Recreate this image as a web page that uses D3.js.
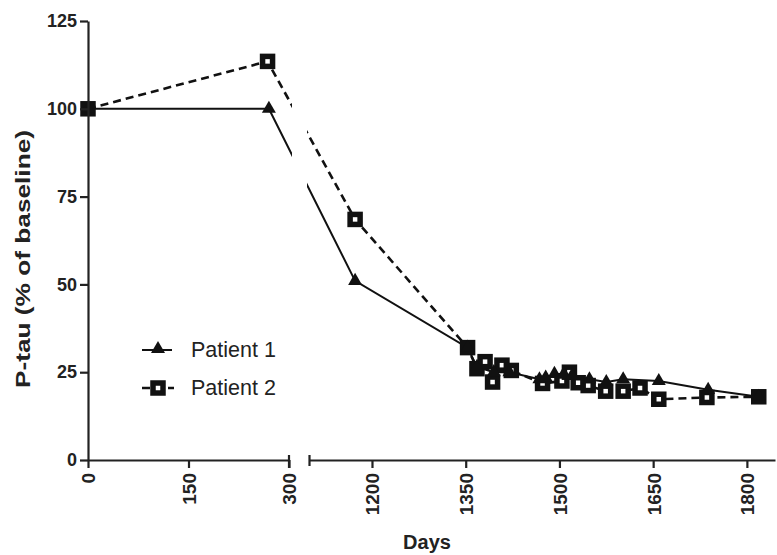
<!DOCTYPE html>
<html><head><meta charset="utf-8">
<script src="https://cdn.jsdelivr.net/npm/d3@7/dist/d3.min.js"></script>
<style>body{margin:0;background:#fff}svg{display:block;font-family:'Liberation Sans',Arial,sans-serif}</style>
</head><body><svg id="c" width="777" height="555"></svg>
<script>
const p1Days = [0,270,1173,1353,1368,1395,1420,1468,1478,1492,1507,1520,1548,1575,1602,1659,1738,1819];
const p1Vals = [100,100,51,32,26.5,25,25,23,23.5,24.5,24.5,24,23,22.2,23,22.5,20,18];
const p2Days = [0,268,1173,1353,1368,1381,1393,1408,1423,1473,1504,1516,1530,1546,1574,1602,1629,1659,1736,1819];
const p2Vals = [100,113.5,68.5,32,26,28,22.2,27,25.5,21.8,22.5,25,22,21.2,19.6,19.6,20.5,17.3,17.8,18];
const xTicks1 = [0,150,300];
const xTicks2 = [1200,1350,1500,1650,1800];
const yTicks = [0,25,50,75,100,125];
const seriesNames = ["Patient 1","Patient 2"];

const svg = d3.select("#c");
const y = d3.scaleLinear().domain([0,125]).range([460,21]);
const xs1 = d3.scaleLinear().domain([0,300]).range([88,289]);
const xs2 = d3.scaleLinear().domain([1100,1845]).range([309.5,775]);
const x = d3.scaleLinear().domain([0,300,1100,1845]).range([88,289,309.5,775]);

const line = d3.line().x(d=>x(d[0])).y(d=>y(d[1]));
const p1 = p1Days.map((d,i)=>[d,p1Vals[i]]);
const p2 = p2Days.map((d,i)=>[d,p2Vals[i]]);

svg.append("path").attr("d",line(p1)).attr("fill","none").attr("stroke","#111").attr("stroke-width",2);
svg.append("path").attr("d",line(p2)).attr("fill","none").attr("stroke","#111").attr("stroke-width",2.6).attr("stroke-dasharray","8,5");
svg.append("rect").attr("x",292).attr("y",10).attr("width",15).attr("height",444).attr("fill","#fff");

const tri = d3.symbol().type(d3.symbolTriangle).size(85);
function sq(g,cx,cy){
  g.append("rect").attr("x",cx-5).attr("y",cy-5).attr("width",10).attr("height",10)
   .attr("fill","#fff").attr("stroke","#111").attr("stroke-width",5.5);
}
p2.forEach(d=>sq(svg,x(d[0]),y(d[1])));
svg.selectAll(".t").data(p1).enter().append("path").attr("d",tri)
  .attr("transform",d=>`translate(${x(d[0])},${y(d[1])})`).attr("fill","#111");

const fmt = d3.format("d");
const ya = svg.append("g").attr("transform","translate(88,0)")
  .call(d3.axisLeft(y).tickValues(yTicks).tickFormat(fmt).tickSize(8).tickSizeOuter(0).tickPadding(3));
const xa1 = svg.append("g").attr("transform","translate(0,460)")
  .call(d3.axisBottom(xs1).tickValues(xTicks1).tickFormat(fmt).tickSize(8).tickSizeOuter(0));
const xa2 = svg.append("g").attr("transform","translate(0,460)")
  .call(d3.axisBottom(xs2).tickValues(xTicks2).tickFormat(fmt).tickSize(8).tickSizeOuter(0));
[ya,xa1,xa2].forEach(a=>{
  a.attr("font-size",null).attr("font-family",null);
  a.selectAll("path,line").attr("stroke","#222").attr("stroke-width",2.2);
  a.selectAll("text").style("font-weight","bold")
   .style("font-family","'Liberation Sans', Arial, sans-serif").attr("fill","#222");
});
ya.selectAll("text").style("font-size","18px");
[xa1,xa2].forEach(a=>{
  a.selectAll("text").style("font-size","19px").attr("transform","rotate(-90)").attr("text-anchor","end")
   .attr("x",-13).attr("y",0).attr("dy","0.36em");
});
[[289,-5,8],[309.5,-5,6]].forEach(c=>{
  svg.append("line").attr("x1",c[0]).attr("x2",c[0]).attr("y1",460+c[1]).attr("y2",460+c[2])
   .attr("stroke","#222").attr("stroke-width",2.2);
});

svg.append("text").attr("x",427).attr("y",549).attr("text-anchor","middle")
  .style("font-size","20px").style("font-weight","bold").attr("fill","#222").text("Days");
svg.append("text").attr("transform","translate(30,259) rotate(-90)").attr("text-anchor","middle")
  .attr("textLength",258).attr("lengthAdjust","spacingAndGlyphs")
  .style("font-size","21px").style("font-weight","bold").attr("fill","#222").text("P-tau (% of baseline)");

const lg = svg.append("g");
lg.append("line").attr("x1",142).attr("x2",172).attr("y1",350).attr("y2",350).attr("stroke","#111").attr("stroke-width",2);
lg.append("path").attr("d",tri).attr("transform","translate(158,349)").attr("fill","#111");
lg.append("text").attr("x",191).attr("y",357).style("font-size","21.5px").attr("fill","#222").text(seriesNames[0]);
lg.append("line").attr("x1",142).attr("x2",174).attr("y1",388).attr("y2",388).attr("stroke","#111").attr("stroke-width",2.6).attr("stroke-dasharray","8,5");
sq(lg,158,388);
lg.append("text").attr("x",191).attr("y",395).style("font-size","21.5px").attr("fill","#222").text(seriesNames[1]);
</script></body></html>
